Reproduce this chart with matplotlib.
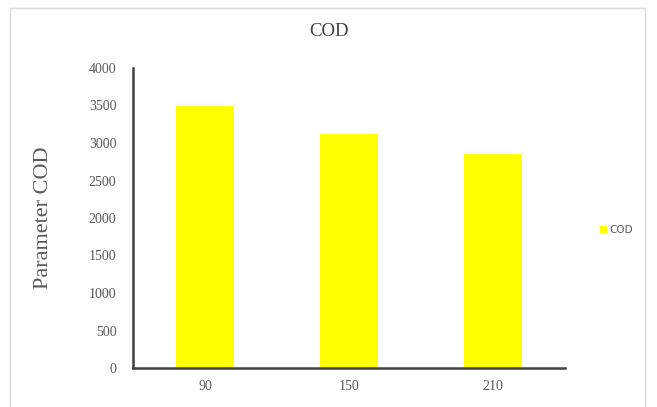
import matplotlib
matplotlib.use("Agg")
import matplotlib.pyplot as plt
from matplotlib.patches import Rectangle

# COD measured at each time step
times = ["90", "150", "210"]
cod = [3490, 3120, 2855]

fig = plt.figure(figsize=(6.57, 4.07), dpi=100)

# light frame around the whole chart area
fig.patches.append(Rectangle((10 / 657, -0.01), 635 / 657, 1 - 8 / 407 + 0.01,
                             transform=fig.transFigure, fill=False,
                             edgecolor="#d9d9d9", linewidth=1))

ax = fig.add_axes([133 / 657, 1 - 368 / 407, 432 / 657, 300 / 407])
x = range(len(times))
ax.bar(x, cod, width=0.4, color="#ffff00", label="COD")

ax.set_xlim(-0.5, 2.5)
ax.set_ylim(0, 4000)
ax.set_yticks(range(0, 4001, 500))
ax.set_xticks(list(x))
ax.set_xticklabels(times)

serif = "Liberation Serif"
for lab in ax.get_xticklabels() + ax.get_yticklabels():
    lab.set_fontfamily(serif)
    lab.set_fontsize(10)
    lab.set_color("#595959")
ax.tick_params(length=0, pad=12)
ax.tick_params(axis="x", pad=9)

for side in ("top", "right"):
    ax.spines[side].set_visible(False)
for side in ("left", "bottom"):
    ax.spines[side].set_color("#404040")
    ax.spines[side].set_linewidth(1.8)

ax.set_ylabel("Parameter COD", fontfamily=serif, fontsize=16, color="#595959", labelpad=26)
fig.text(0.5, 1 - 32 / 407, "COD", fontfamily=serif, fontsize=13.5,
         color="#404040", ha="center", va="center")

ax.legend(loc="center left", bbox_to_anchor=(1.06, 0.46), frameon=False,
          handlelength=0.6, handleheight=0.6, handletextpad=0.3,
          prop={"family": "DejaVu Sans", "size": 7.5}, labelcolor="#595959")

fig.savefig("out.png", dpi=100)
